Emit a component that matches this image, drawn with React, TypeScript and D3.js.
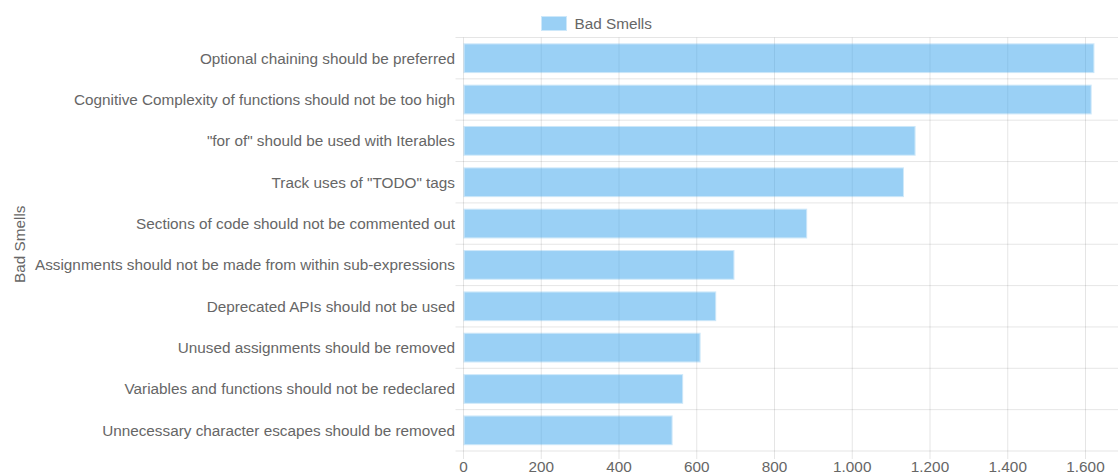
import { useEffect, useRef } from 'react'
import * as d3 from 'd3'

const W = 1118, H = 474
const M = { top: 37.5, right: 0, bottom: 23, left: 463.5 }
const FONT = 'Liberation Sans, Arial, Helvetica, sans-serif'
const FS = 15.3

const categories = [
  'Optional chaining should be preferred',
  'Cognitive Complexity of functions should not be too high',
  '"for of" should be used with Iterables',
  'Track uses of "TODO" tags',
  'Sections of code should not be commented out',
  'Assignments should not be made from within sub-expressions',
  'Deprecated APIs should not be used',
  'Unused assignments should be removed',
  'Variables and functions should not be redeclared',
  'Unnecessary character escapes should be removed',
]
const values = [1623, 1616, 1163, 1133, 884, 697, 650, 610, 565, 538]
const xTicks = [0, 200, 400, 600, 800, 1000, 1200, 1400, 1600]
const seriesName = 'Bad Smells'
const axisTitle = 'Bad Smells'

const FILL = 'rgba(54,162,235,0.5)'
const EDGE = 'rgba(54,162,235,0.25)'
const GRID = 'rgba(0,0,0,0.1)'
const TEXT = '#666'

const fmt = d3.formatLocale({ decimal: ',', thousands: '.', grouping: [3], currency: ['', ''] }).format(',d')

export default function App() {
  const svgRef = useRef<SVGSVGElement>(null)

  useEffect(() => {
    const svg = d3.select(svgRef.current!)
    svg.selectAll('*').remove()

    const bottom = H - M.bottom
    const x = d3.scaleLinear().domain([0, 1800]).range([M.left, M.left + 1800 * 0.38875])
    const y = d3.scaleBand<string>().domain(categories).range([M.top, bottom])
    const bw = y.bandwidth()

    // grid: vertical lines at ticks
    svg.append('g').selectAll('line').data(xTicks).join('line')
      .attr('x1', d => x(d)).attr('x2', d => x(d))
      .attr('y1', M.top).attr('y2', bottom + 8)
      .attr('stroke', GRID).attr('stroke-width', 1)

    // grid: horizontal lines between categories
    const bounds = categories.map(c => y(c)!).concat([bottom])
    svg.append('g').selectAll('line').data(bounds).join('line')
      .attr('x1', M.left - 8).attr('x2', W)
      .attr('y1', d => d).attr('y2', d => d)
      .attr('stroke', GRID).attr('stroke-width', 1)

    // bars: light edge ring + semi-transparent fill
    const bh = bw * 0.72
    const bars = svg.append('g').selectAll('g').data(categories).join('g')
    bars.append('rect')
      .attr('x', x(0) + 0.5).attr('y', c => y(c)! + (bw - bh) / 2 + 0.5)
      .attr('width', (_, i) => x(values[i]) - x(0) - 1).attr('height', bh - 1)
      .attr('fill', 'none').attr('stroke', EDGE).attr('stroke-width', 1)
    bars.append('rect')
      .attr('x', x(0) + 1).attr('y', c => y(c)! + (bw - bh) / 2 + 1)
      .attr('width', (_, i) => x(values[i]) - x(0) - 2).attr('height', bh - 2)
      .attr('fill', FILL)

    // y labels
    svg.append('g').selectAll('text').data(categories).join('text')
      .attr('x', M.left - 8.5).attr('y', c => y(c)! + bw / 2)
      .attr('text-anchor', 'end').attr('dominant-baseline', 'central')
      .attr('font-size', FS).attr('font-family', FONT).attr('fill', TEXT)
      .text(c => c)

    // x labels
    svg.append('g').selectAll('text').data(xTicks).join('text')
      .attr('x', d => x(d)).attr('y', bottom + 15.5)
      .attr('text-anchor', 'middle').attr('dominant-baseline', 'central')
      .attr('font-size', FS).attr('font-family', FONT).attr('fill', TEXT)
      .text(d => fmt(d))

    // y axis title
    svg.append('text')
      .attr('transform', `translate(19,${(M.top + bottom) / 2}) rotate(-90)`)
      .attr('text-anchor', 'middle').attr('dominant-baseline', 'central')
      .attr('font-size', FS).attr('font-family', FONT).attr('fill', TEXT)
      .text(axisTitle)

    // legend
    const lg = svg.append('g').attr('transform', 'translate(541,16)')
    lg.append('rect').attr('x', 0.5).attr('y', 0.5).attr('width', 25).attr('height', 14)
      .attr('fill', 'none').attr('stroke', EDGE)
    lg.append('rect').attr('x', 1).attr('y', 1).attr('width', 24).attr('height', 13).attr('fill', FILL)
    lg.append('text').attr('x', 33.5).attr('y', 7.5)
      .attr('dominant-baseline', 'central')
      .attr('font-size', FS).attr('font-family', FONT).attr('fill', TEXT)
      .text(seriesName)
  }, [])

  return (
    <svg
      ref={svgRef}
      width={W}
      height={H}
      style={{ position: 'absolute', left: 0, top: 0, background: '#fff' }}
    />
  )
}
